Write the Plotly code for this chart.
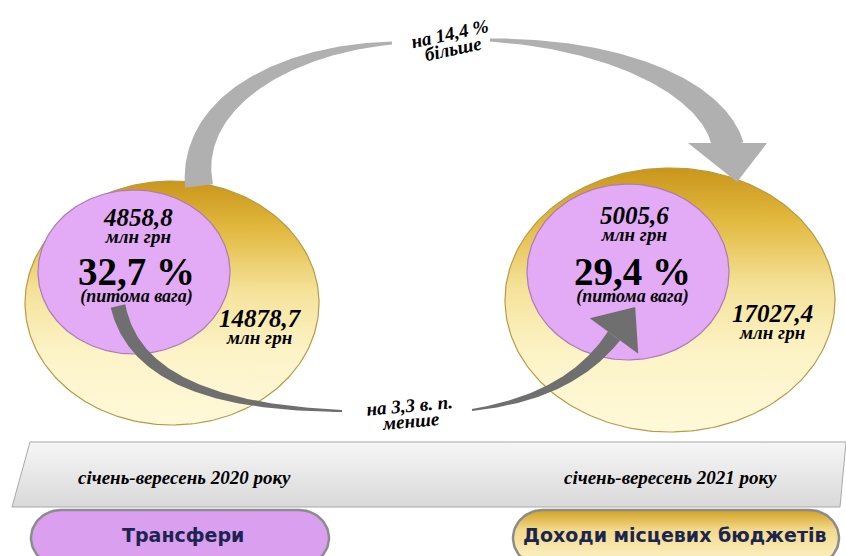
import numpy as np
import plotly.graph_objects as go

# ---------------- data ----------------
periods = ["січень-вересень 2020 року", "січень-вересень 2021 року"]
local_income = [14878.7, 17027.4]      # млн грн
transfers = [4858.8, 5005.6]           # млн грн
transfer_share = [32.7, 29.4]          # %
income_growth_pct = 14.4
share_change_pp = 3.3
legend_labels = ["Трансфери", "Доходи місцевих бюджетів"]
unit = "млн грн"

# ---------------- layout geometry (pixel space, y down) ----------------
W, H = 846, 556
big_ell = [dict(cx=172, cy=303, rx=147, ry=122), dict(cx=670, cy=300, rx=165, ry=132)]
small_ell = [dict(cx=134, cy=272, rx=96, ry=82), dict(cx=628, cy=272, rx=101, ry=88)]

GOLD = [[0, "#C9961A"], [0.2, "#E2B93F"], [0.45, "#F5E29A"], [0.7, "#FCF3C6"], [1, "#FFF9DA"]]
PURPLE = "#E3AAF6"

def fmt(v):
    return f"{v:.1f}".replace(".", ",")

fig = go.Figure()

def poly(xs, ys, color=None, grad=None, line_color="rgba(0,0,0,0)", lw=1):
    kw = dict(x=list(xs) + [xs[0]], y=list(ys) + [ys[0]], mode="lines", fill="toself",
              line=dict(color=line_color, width=lw), hoverinfo="skip", showlegend=False)
    if grad is not None:
        kw["fillgradient"] = dict(type="vertical", colorscale=grad,
                                  start=min(ys), stop=max(ys))
        kw["fillcolor"] = grad[len(grad) // 2][1]
    else:
        kw["fillcolor"] = color
    fig.add_trace(go.Scatter(**kw))

def ellipse(e, n=240):
    t = np.linspace(0, 2 * np.pi, n, endpoint=False)
    return e["cx"] + e["rx"] * np.cos(t), e["cy"] + e["ry"] * np.sin(t)

def bezier(p0, p1, p2, p3, n=120):
    t = np.linspace(0, 1, n)[:, None]
    P = ((1 - t) ** 3) * np.array(p0) + 3 * ((1 - t) ** 2) * t * np.array(p1) \
        + 3 * (1 - t) * t ** 2 * np.array(p2) + t ** 3 * np.array(p3)
    return P

def band(P, w0, w1, color):
    d = np.gradient(P, axis=0)
    d = d / np.linalg.norm(d, axis=1)[:, None]
    nrm = np.stack([-d[:, 1], d[:, 0]], axis=1)
    w = np.linspace(w0, w1, len(P))[:, None] / 2
    L = P + nrm * w
    R = P - nrm * w
    pts = np.vstack([L, R[::-1]])
    poly(pts[:, 0], pts[:, 1], color=color)
    return P[-1], d[-1], nrm[-1]

def head(end, d, nrm, half, length, color):
    a = end + nrm * half
    b = end - nrm * half
    tip = end + d * length
    poly([a[0], tip[0], b[0]], [a[1], tip[1], b[1]], color=color)

# gold ellipses
for e in big_ell:
    xs, ys = ellipse(e)
    poly(xs, ys, grad=GOLD, line_color="#B89A45", lw=1.2)

# top arrow (light grey)
TOP = "#B0B0B0"
band(bezier((199, 186), (188, 105), (280, 50), (392, 43)), 28, 3, TOP)
band(bezier((490, 40), (620, 44), (715, 90), (728, 146)), 3, 32, TOP)
poly([688, 767, 737], [143, 143, 182], color=TOP)

# purple ellipses
for e in small_ell:
    xs, ys = ellipse(e)
    poly(xs, ys, color=PURPLE, line_color="#A97BB8", lw=1.2)

# bottom arrow (dark grey)
BOT = "#6F6F6F"
band(bezier((118, 306), (135, 385), (230, 408), (342, 411)), 15, 2, BOT)
end, d, nrm = band(bezier((472, 410), (545, 400), (588, 372), (614, 336)), 2, 15, BOT)
head(end, d, nrm, 30, 36, BOT)

# grey period band
poly([30, 846, 840, 12], [442, 442, 507, 507],
     grad=[[0, "#F6F6F6"], [1, "#D9D9D9"]], line_color="#A8A8A8", lw=1)

# legend pills
def pill(x0, x1, y0, y1, r, **kw):
    t1 = np.linspace(np.pi / 2, 3 * np.pi / 2, 40)
    t2 = np.linspace(-np.pi / 2, np.pi / 2, 40)
    cy = (y0 + y1) / 2
    ry = (y1 - y0) / 2
    xs = np.concatenate([x0 + r + r * np.cos(t1), x1 - r + r * np.cos(t2)])
    ys = np.concatenate([cy - ry * np.sin(t1), cy - ry * np.sin(t2)])
    poly(xs, ys, **kw)

pill(31, 329, 510, 566, 30, color="#DA9FEF", line_color="#8C8C8C", lw=2.5)
pill(513, 839, 510, 566, 30,
     grad=[[0, "#D2A122"], [0.35, "#F2D98A"], [1, "#FFF6CF"]], line_color="#8C8C8C", lw=2.5)

# ---------------- texts ----------------
SERIF = "Liberation Serif, Times New Roman, DejaVu Serif, serif"
ann = []
def note(x, y, text, base, angle=0, color="black", family=SERIF):
    ann.append(dict(x=x, y=y, text=text, showarrow=False, textangle=angle,
                    font=dict(family=family, size=base, color=color),
                    xanchor="center", yanchor="middle"))

def sp(s, size):
    return f"<span style='font-size:{size}px'>{s}</span>"

num_pos = [(138, 225), (634, 223)]
pct_pos = [(136, 278), (632, 278)]
big_pos = [(260, 326), (772, 321)]
for i in range(2):
    x, y = num_pos[i]
    note(x, y, f"<b><i>{sp(fmt(transfers[i]), 25)}<br>{sp(unit, 19)}</i></b>", 13)
    x, y = pct_pos[i]
    note(x, y, f"<b>{sp(fmt(transfer_share[i]) + ' %', 39)}</b><br><b><i>{sp('(питома вага)', 18)}</i></b>", 13)
    x, y = big_pos[i]
    note(x, y, f"<b><i>{sp(fmt(local_income[i]), 25)}<br>{sp(unit, 19)}</i></b>", 13)

note(451, 41, f"<b><i>{sp('на ' + fmt(income_growth_pct) + ' %', 19)}<br>{sp('більше', 19)}</i></b>", 12, angle=-12)
note(410, 413, f"<b><i>{sp('на ' + fmt(share_change_pp) + ' в. п.', 19)}<br>{sp('менше', 19)}</i></b>", 12, angle=-5)

note(184, 477, f"<b><i>{periods[0]}</i></b>", 19)
note(670, 477, f"<b><i>{periods[1]}</i></b>", 19)

note(183, 535, f"<b>{legend_labels[0]}</b>", 19, color="#1C2550", family="DejaVu Sans")
note(674, 535, f"<b>{legend_labels[1]}</b>", 19, color="#1C2550", family="DejaVu Sans")

fig.update_layout(
    width=W, height=H, margin=dict(l=0, r=0, t=0, b=0),
    paper_bgcolor="white", plot_bgcolor="white",
    xaxis=dict(range=[0, W], visible=False, fixedrange=True),
    yaxis=dict(range=[H, 0], visible=False, fixedrange=True),
    annotations=ann, showlegend=False,
)
fig.write_html("out.html")
